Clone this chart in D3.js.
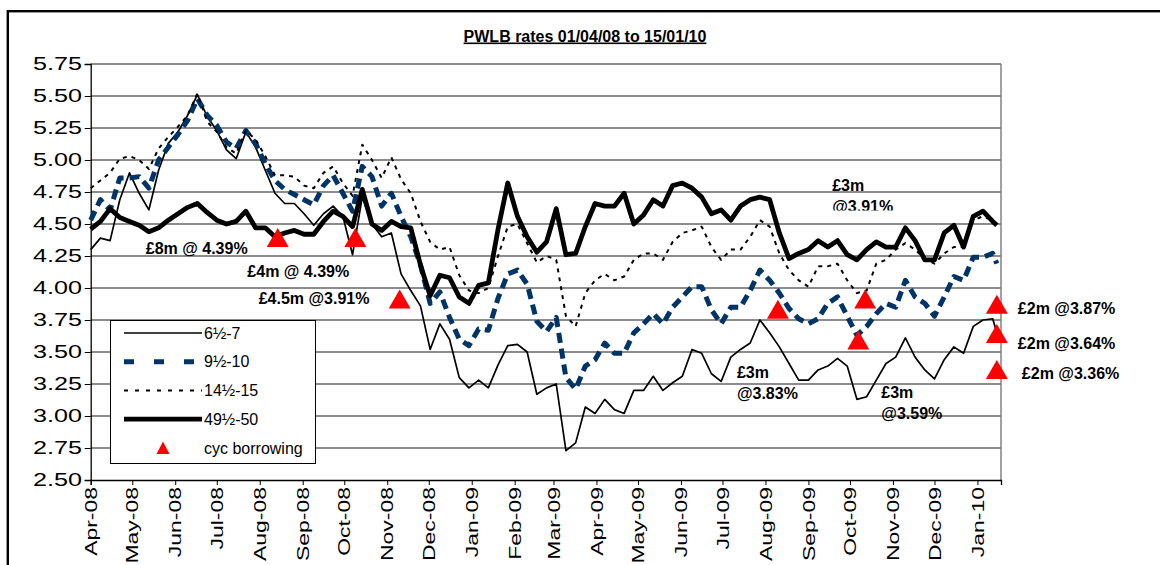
<!DOCTYPE html>
<html>
<head>
<meta charset="utf-8">
<script src="https://cdn.jsdelivr.net/npm/d3@7"></script>
<style>
  body { margin: 0; background: #fff; }
  text { font-family: "Liberation Sans", Arial, sans-serif; fill: #000; }
</style>
</head>
<body>
<div id="chartDiv"></div>
<script>

// weekly readings, 01/04/08 to 15/01/10
var dates = [
  "2008-04-01","2008-04-08","2008-04-15","2008-04-22","2008-04-29","2008-05-06","2008-05-13","2008-05-20","2008-05-27",
  "2008-06-03","2008-06-10","2008-06-17","2008-06-24","2008-07-01","2008-07-08","2008-07-15","2008-07-22","2008-07-29",
  "2008-08-05","2008-08-12","2008-08-19","2008-08-26","2008-09-02","2008-09-09","2008-09-16","2008-09-23","2008-09-30",
  "2008-10-07","2008-10-14","2008-10-21","2008-10-28","2008-11-04","2008-11-11","2008-11-18","2008-11-25","2008-12-02",
  "2008-12-09","2008-12-16","2008-12-23","2008-12-30","2009-01-06","2009-01-13","2009-01-20","2009-01-27","2009-02-03",
  "2009-02-10","2009-02-17","2009-02-24","2009-03-03","2009-03-10","2009-03-17","2009-03-24","2009-03-31","2009-04-07",
  "2009-04-14","2009-04-21","2009-04-28","2009-05-05","2009-05-12","2009-05-19","2009-05-26","2009-06-02","2009-06-09",
  "2009-06-16","2009-06-23","2009-06-30","2009-07-07","2009-07-14","2009-07-21","2009-07-28","2009-08-04","2009-08-11",
  "2009-08-18","2009-08-25","2009-09-01","2009-09-08","2009-09-15","2009-09-22","2009-09-29","2009-10-06","2009-10-13",
  "2009-10-20","2009-10-27","2009-11-03","2009-11-10","2009-11-17","2009-11-24","2009-12-01","2009-12-08","2009-12-15",
  "2009-12-22","2009-12-29","2010-01-05","2010-01-12","2010-01-15"];

var rate6 = [
  4.30,4.39,4.37,4.69,4.90,4.74,4.61,4.92,5.13, 5.22,5.35,5.51,5.34,5.23,5.08,5.01,5.22,5.10,
  4.92,4.74,4.66,4.66,4.58,4.49,4.58,4.64,4.56, 4.26,4.71,4.50,4.40,4.43,4.11,3.98,3.86,3.52,
  3.72,3.60,3.30,3.22,3.28,3.22,3.40,3.55,3.56, 3.50,3.17,3.22,3.25,2.73,2.79,3.07,3.02,3.13,
  3.05,3.02,3.20,3.20,3.31,3.20,3.26,3.31,3.52, 3.49,3.33,3.27,3.46,3.52,3.57,3.75,3.65,3.54,
  3.41,3.28,3.28,3.36,3.39,3.45,3.39,3.13,3.15, 3.28,3.41,3.46,3.61,3.46,3.36,3.29,3.44,3.54,
  3.49,3.70,3.75,3.76,3.65];

var rate9 = [
  4.53,4.69,4.61,4.86,4.86,4.87,4.78,5.00,5.10, 5.20,5.31,5.48,5.35,5.27,5.14,5.09,5.23,5.13,
  4.97,4.84,4.77,4.73,4.69,4.65,4.80,4.88,4.74, 4.60,4.95,4.87,4.64,4.74,4.56,4.40,4.18,3.88,
  3.97,3.77,3.60,3.55,3.68,3.67,3.92,4.11,4.14, 4.03,3.74,3.66,3.77,3.30,3.21,3.39,3.44,3.57,
  3.49,3.49,3.65,3.72,3.80,3.72,3.85,3.93,4.01, 4.01,3.83,3.72,3.85,3.85,3.98,4.14,4.06,3.96,
  3.84,3.76,3.72,3.76,3.88,3.93,3.78,3.63,3.70, 3.80,3.88,3.85,4.06,3.93,3.88,3.78,3.93,4.09,
  4.06,4.24,4.24,4.27,4.19];

var rate14 = [
  4.78,4.84,4.90,5.01,5.03,5.00,4.93,5.09,5.18, 5.26,5.35,5.52,5.30,5.22,5.10,5.05,5.23,5.16,
  5.03,4.88,4.88,4.87,4.80,4.78,4.90,4.95,4.82, 4.72,5.12,5.00,4.86,5.02,4.85,4.74,4.52,4.36,
  4.30,4.32,4.10,3.98,3.96,4.00,4.25,4.48,4.50, 4.35,4.20,4.25,4.22,3.78,3.70,3.96,4.06,4.11,
  4.06,4.09,4.22,4.27,4.27,4.22,4.36,4.43,4.45, 4.48,4.32,4.22,4.30,4.30,4.40,4.53,4.48,4.27,
  4.14,4.06,4.01,4.17,4.17,4.19,4.06,3.96,3.98, 4.19,4.22,4.30,4.35,4.30,4.23,4.19,4.27,4.32,
  4.32,4.53,4.56,4.53,4.49];

var rate49 = [
  4.46,4.52,4.62,4.55,4.52,4.49,4.44,4.47,4.53, 4.58,4.63,4.66,4.59,4.53,4.50,4.52,4.60,4.47,
  4.47,4.40,4.43,4.45,4.42,4.42,4.52,4.60,4.56, 4.48,4.77,4.50,4.45,4.52,4.48,4.47,4.18,3.94,
  4.10,4.08,3.93,3.88,4.02,4.04,4.46,4.82,4.56, 4.40,4.28,4.36,4.62,4.26,4.27,4.48,4.66,4.64,
  4.64,4.74,4.50,4.57,4.69,4.64,4.80,4.82,4.78, 4.71,4.58,4.61,4.53,4.64,4.69,4.71,4.69,4.43,
  4.23,4.27,4.30,4.37,4.32,4.37,4.26,4.22,4.30, 4.36,4.32,4.32,4.47,4.37,4.22,4.22,4.43,4.49,
  4.32,4.56,4.60,4.52,4.49];

var seriesNames = ["6½-7", "9½-10", "14½-15", "49½-50"];
var markerName = "cyc borrowing";

var borrowDates = ["2008-08-14","2008-10-09","2008-11-10","2009-08-10","2009-10-12","2009-10-07","2010-01-15","2010-01-15","2010-01-15"];
var borrowRates = [4.39, 4.39, 3.91, 3.83, 3.91, 3.59, 3.87, 3.64, 3.36];
var borrowLabels = [["£8m @ 4.39%"], ["£4m @ 4.39%"], ["£4.5m @3.91%"], ["£3m", "@3.83%"], ["£3m", "@3.91%"],
                    ["£3m", "@3.59%"], ["£2m @3.87%"], ["£2m @3.64%"], ["£2m @3.36%"]];

var yTicks = [2.50, 2.75, 3.00, 3.25, 3.50, 3.75, 4.00, 4.25, 4.50, 4.75, 5.00, 5.25, 5.50, 5.75];
var titleText = "PWLB rates 01/04/08 to 15/01/10";

// ---- layout
var W = 1160, H = 565;
var plot = {left: 90.7, right: 1001, top: 64, bottom: 480};
var labelOffsets = [[-132, 10], [-108, 33], [-141, -1], [-41, 62], [-33, -114], [23, 52], [21, 4], [21, 9], [25, 3]];
var axisStretch = 1.4;   // axis text in the original is drawn wide

var parseDate = d3.timeParse("%Y-%m-%d");
var fmtMonth = d3.timeFormat("%b-%y");

var svg = d3.select("#chartDiv").append("svg")
    .attr("width", W).attr("height", H);

svg.append("rect").attr("width", W).attr("height", H).attr("fill", "#fff");

// outer chart frame (runs off the page right and bottom)
svg.append("rect")
    .attr("x", 7.8).attr("y", 11.2).attr("width", 1400).attr("height", 800)
    .attr("fill", "none").attr("stroke", "#000").attr("stroke-width", 2.4);

var x_scale = d3.scaleTime()
    .domain([parseDate("2008-04-01"), parseDate("2010-01-18")])
    .range([plot.left, plot.right]);

var y_scale = d3.scaleLinear()
    .domain([2.5, 5.75])
    .range([plot.bottom, plot.top]);

// title
svg.append("text")
    .attr("x", 585).attr("y", 41.5)
    .attr("text-anchor", "middle")
    .style("font-size", "16px").style("font-weight", "bold")
    .style("text-decoration", "underline")
    .text(titleText);

// gridlines
svg.append("g").selectAll("line").data(yTicks.slice(1)).enter()
    .append("line")
    .attr("x1", plot.left).attr("x2", plot.right)
    .attr("y1", function(d){ return y_scale(d); })
    .attr("y2", function(d){ return y_scale(d); })
    .attr("stroke", "#1a1a1a").attr("stroke-width", 1.1);

// right edge of plot area
svg.append("line")
    .attr("x1", plot.right).attr("x2", plot.right)
    .attr("y1", plot.top).attr("y2", plot.bottom)
    .attr("stroke", "#808080").attr("stroke-width", 1.5);

// y axis
var yAxis = d3.axisLeft(y_scale).tickValues(yTicks).tickSize(6).tickFormat("");
var yGroup = svg.append("g").attr("transform", "translate(" + plot.left + ",0)").call(yAxis);
yGroup.select(".domain").attr("stroke", "#000").attr("stroke-width", 1.3);
yGroup.selectAll(".tick line").attr("stroke", "#000");

svg.append("g").selectAll("text").data(yTicks).enter()
    .append("text")
    .attr("transform", function(d){ return "translate(82," + y_scale(d) + ") scale(" + axisStretch + ",1)"; })
    .attr("dy", "0.36em")
    .attr("text-anchor", "end")
    .style("font-size", "18px")
    .text(function(d){ return d.toFixed(2); });

// x axis, one tick per month
var months = d3.timeMonth.range(parseDate("2008-04-01"), parseDate("2010-01-02"));
var xAxis = d3.axisBottom(x_scale).tickValues(months).tickSize(5).tickFormat("");
var xGroup = svg.append("g").attr("transform", "translate(0," + plot.bottom + ")").call(xAxis);
xGroup.select(".domain").attr("stroke", "#000").attr("stroke-width", 1.3);
xGroup.selectAll(".tick line").attr("stroke", "#000");

svg.append("g").selectAll("text").data(months).enter()
    .append("text")
    .attr("transform", function(d){
        return "translate(" + x_scale(d) + ",487) rotate(-90) scale(1.35,1)";
    })
    .attr("dy", "0.36em")
    .attr("text-anchor", "end")
    .style("font-size", "17px")
    .text(function(d){ return fmtMonth(d); });

// series
var styles = [
    {data: rate6,  color: "#000",    width: 1.7, dash: null},
    {data: rate9,  color: "#003366", width: 5,   dash: "10,6"},
    {data: rate14, color: "#000",    width: 2,   dash: "4,5"},
    {data: rate49, color: "#000",    width: 4.8, dash: null}
];

var line = d3.line()
    .x(function(d, i){ return x_scale(parseDate(dates[i])); })
    .y(function(d){ return y_scale(d); });

var chart_svg = svg.append("g").attr("class", "svg_chart");

styles.forEach(function(s){
    chart_svg.append("path")
        .datum(s.data)
        .attr("d", line)
        .attr("fill", "none")
        .attr("stroke", s.color)
        .attr("stroke-width", s.width)
        .attr("stroke-dasharray", s.dash)
        .attr("stroke-linejoin", "round");
});

// borrowing markers
var triangle = "M0,-10L11,9L-11,9Z";

chart_svg.selectAll(".borrow").data(borrowRates).enter()
    .append("path").attr("class", "borrow")
    .attr("d", triangle)
    .attr("fill", "#ff0000")
    .attr("transform", function(d, i){
        return "translate(" + x_scale(parseDate(borrowDates[i])) + "," + y_scale(d) + ")";
    });

// label for the Oct-09 3.91% deal is cut off in the original
svg.append("clipPath").attr("id", "cutLabel")
    .append("rect").attr("x", 0).attr("y", 0).attr("width", W).attr("height", 210.5);

var labels = svg.append("g");
borrowLabels.forEach(function(lines, i){
    var bx = x_scale(parseDate(borrowDates[i])) + labelOffsets[i][0];
    var by = y_scale(borrowRates[i]) + labelOffsets[i][1];
    var t = labels.append("text")
        .attr("x", bx).attr("y", by)
        .style("font-size", "16px").style("font-weight", "bold");
    if (i == 4) t.attr("clip-path", "url(#cutLabel)");
    lines.forEach(function(l, j){
        t.append("tspan").attr("x", bx).attr("y", by + j * 21).attr("dy", "0.36em").text(l);
    });
});

// legend
var legend = svg.append("g").attr("transform", "translate(110,320)");
legend.append("rect")
    .attr("x", 0.5).attr("y", 0.5).attr("width", 205).attr("height", 143)
    .attr("fill", "#fff").attr("stroke", "#000").attr("stroke-width", 1);

var legendDash = [null, "10,20", "4,7", null];
seriesNames.forEach(function(name, i){
    var ly = 13 + i * 28.7;
    legend.append("line")
        .attr("x1", 14).attr("x2", 92).attr("y1", ly).attr("y2", ly)
        .attr("stroke", styles[i].color)
        .attr("stroke-width", styles[i].width)
        .attr("stroke-dasharray", legendDash[i]);
    legend.append("text")
        .attr("x", 94).attr("y", ly).attr("dy", "0.36em")
        .style("font-size", "16px")
        .text(name);
});
legend.append("path")
    .attr("d", "M0,-6.5L6.5,6L-6.5,6Z")
    .attr("fill", "#ff0000")
    .attr("transform", "translate(53,128)");
legend.append("text")
    .attr("x", 94).attr("y", 128).attr("dy", "0.36em")
    .style("font-size", "16px")
    .text(markerName);

</script>
</body>
</html>
